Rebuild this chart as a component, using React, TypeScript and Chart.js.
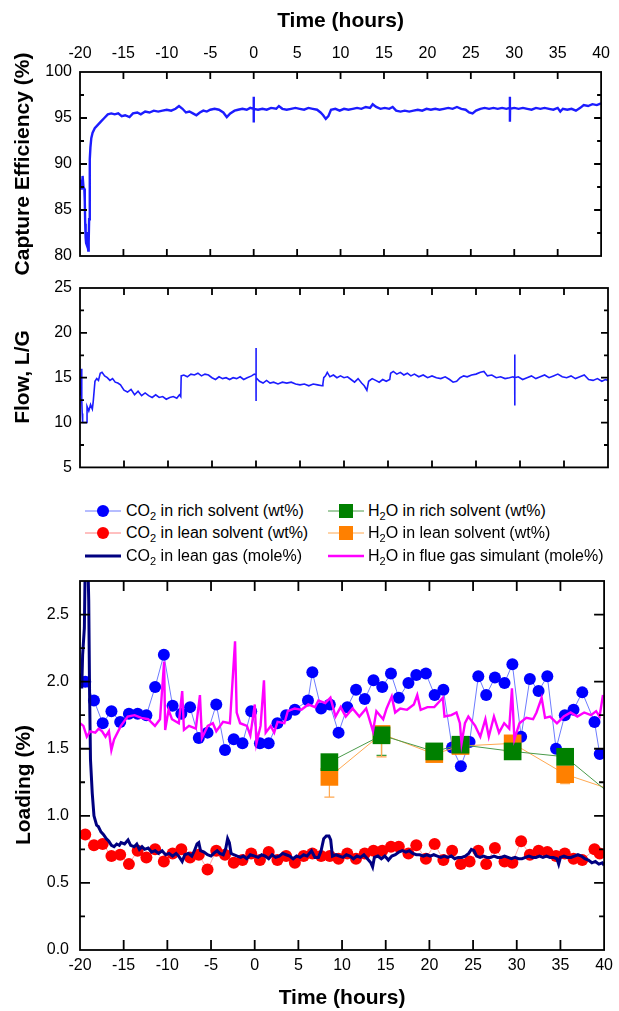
import React, { useEffect, useRef } from "react";
import { Chart, registerables } from "chart.js";

Chart.register(...registerables);

const FONT = "'Liberation Sans', Arial, Helvetica, sans-serif";

// ---------- axis ticks ----------
const timeTicks = [-20, -15, -10, -5, 0, 5, 10, 15, 20, 25, 30, 35, 40];
const effTicks = [80, 85, 90, 95, 100];
const effMinorTicks = [82.5, 87.5, 92.5, 97.5];
const flowTicks = [5, 10, 15, 20, 25];
const flowMinorTicks = [7.5, 12.5, 17.5, 22.5];
const loadTicks = [0, 0.5, 1.0, 1.5, 2.0, 2.5];
const loadMinorTicks = [0.25, 0.75, 1.25, 1.75, 2.25];

// ---------- data: [time (h), value] ----------
const captureEfficiency: [number, number][] = [
  [-20.0, 87.6], [-19.9, 88.3], [-19.8, 87.2], [-19.7, 88.7], [-19.6, 87.5], [-19.5, 87.3], [-19.45, 86.0],
  [-19.4, 83.5], [-19.35, 82.0], [-19.3, 81.4], [-19.25, 82.6], [-19.2, 81.2], [-19.15, 81.8], [-19.1, 81.0],
  [-19.05, 80.6], [-19.0, 81.5], [-18.95, 84.0], [-18.9, 87.5], [-18.85, 90.5], [-18.8, 91.8], [-18.7, 92.8],
  [-18.55, 93.4], [-18.3, 93.9], [-18.0, 94.2], [-17.6, 94.6], [-17.2, 95.0], [-16.8, 95.4], [-16.4, 95.5],
  [-16.0, 95.4], [-15.6, 95.5], [-15.2, 95.2], [-14.8, 95.3], [-14.3, 95.1], [-13.9, 95.5], [-13.4, 95.6],
  [-13.0, 95.4], [-12.5, 95.7], [-12.0, 95.6], [-11.5, 95.8], [-11.0, 95.7], [-10.5, 95.8], [-10.0, 95.9],
  [-9.5, 95.8], [-9.0, 96.0], [-8.6, 96.3], [-8.2, 96.0], [-7.8, 95.6], [-7.4, 95.7], [-7.0, 95.5],
  [-6.6, 95.3], [-6.2, 95.6], [-5.8, 95.8], [-5.4, 95.7], [-5.0, 95.9], [-4.5, 96.0], [-4.0, 95.9],
  [-3.5, 95.6], [-3.1, 95.1], [-2.7, 95.5], [-2.2, 95.8], [-1.8, 95.9], [-1.3, 96.0], [-0.8, 95.9],
  [-0.4, 96.1], [0.0, 96.0], [0.0, 97.3], [0.0, 94.5], [0.02, 96.0], [0.5, 95.9], [1.0, 96.0], [1.5, 95.9],
  [2.0, 96.1], [2.6, 96.0], [2.9, 96.3], [3.3, 96.0], [3.8, 95.9], [4.3, 96.0], [4.8, 96.1], [5.3, 96.0],
  [5.8, 95.9], [6.3, 96.1], [6.8, 96.0], [7.3, 95.9], [7.7, 95.6], [8.0, 95.3], [8.3, 94.9], [8.6, 95.2],
  [8.9, 95.9], [9.4, 96.0], [9.9, 95.8], [10.4, 96.0], [10.9, 95.9], [11.4, 96.0], [11.9, 96.1], [12.4, 96.0],
  [12.9, 96.2], [13.4, 96.1], [13.7, 96.5], [14.1, 96.2], [14.6, 96.0], [15.1, 96.1], [15.6, 96.0], [16.0, 96.2],
  [16.4, 95.8], [16.9, 95.7], [17.4, 95.8], [17.9, 95.7], [18.4, 95.8], [18.9, 95.9], [19.4, 95.8], [19.9, 96.0],
  [20.4, 95.9], [20.9, 96.0], [21.4, 95.9], [21.9, 96.0], [22.4, 96.1], [22.9, 96.0], [23.4, 96.2], [23.9, 96.0],
  [24.4, 95.9], [24.8, 95.6], [25.2, 95.5], [25.6, 95.8], [26.1, 96.0], [26.6, 96.1], [27.1, 96.0], [27.6, 96.1],
  [28.1, 96.0], [28.6, 96.1], [29.1, 96.0], [29.5, 96.1], [29.5, 97.3], [29.5, 94.6], [29.52, 96.0], [30.0, 96.1],
  [30.5, 96.0], [31.0, 96.1], [31.5, 96.0], [32.0, 95.9], [32.5, 96.1], [33.0, 96.0], [33.5, 96.1], [34.0, 96.0],
  [34.5, 95.9], [35.0, 96.1], [35.3, 95.7], [35.6, 96.0], [36.1, 95.9], [36.6, 96.0], [37.1, 95.8], [37.6, 96.1],
  [38.0, 96.4], [38.5, 96.3], [39.0, 96.5], [39.5, 96.4], [40.0, 96.6],
];

const flowLG: [number, number][] = [
  [-20.0, 13.1], [-19.9, 13.8], [-19.85, 16.0], [-19.8, 12.5], [-19.75, 11.0], [-19.7, 10.0], [-19.2, 10.0],
  [-19.2, 11.8], [-19.0, 11.3], [-18.8, 12.0], [-18.6, 11.5], [-18.5, 12.3], [-18.3, 14.6], [-18.1, 14.9],
  [-17.9, 14.7], [-17.7, 15.5], [-17.5, 15.6], [-17.2, 15.2], [-16.9, 15.0], [-16.6, 14.7], [-16.3, 14.9],
  [-16.0, 14.5], [-15.7, 14.4], [-15.4, 14.2], [-15.0, 13.6], [-14.6, 13.4], [-14.2, 13.7], [-13.8, 13.1],
  [-13.4, 13.5], [-13.0, 13.0], [-12.6, 13.3], [-12.2, 13.0], [-11.8, 12.8], [-11.4, 13.1], [-11.0, 12.8],
  [-10.6, 12.9], [-10.2, 12.6], [-9.8, 12.8], [-9.4, 12.9], [-9.0, 12.7], [-8.7, 13.1], [-8.55, 12.9],
  [-8.5, 15.2], [-8.2, 15.3], [-7.8, 15.1], [-7.4, 15.4], [-7.0, 15.3], [-6.6, 15.5], [-6.2, 15.2], [-5.8, 15.4],
  [-5.4, 15.3], [-5.0, 15.0], [-4.6, 14.8], [-4.2, 15.1], [-3.8, 14.9], [-3.4, 15.0], [-3.0, 14.8], [-2.6, 15.0],
  [-2.2, 14.9], [-1.8, 15.1], [-1.4, 14.8], [-1.0, 15.0], [-0.5, 15.2], [-0.2, 15.4], [0.0, 15.3], [0.0, 18.3],
  [0.0, 12.4], [0.03, 15.0], [0.4, 14.6], [0.8, 14.4], [1.2, 14.7], [1.6, 14.4], [2.0, 14.5], [2.5, 14.3],
  [3.0, 14.5], [3.5, 14.4], [4.0, 14.5], [4.5, 14.3], [5.0, 14.2], [5.5, 14.3], [6.0, 14.1], [6.5, 14.3],
  [7.0, 14.2], [7.5, 14.1], [7.6, 14.3], [7.7, 15.0], [7.9, 15.2], [8.1, 15.6], [8.4, 15.1], [8.8, 15.3],
  [9.2, 15.0], [9.6, 15.2], [10.0, 15.0], [10.4, 15.1], [10.8, 14.8], [11.2, 14.5], [11.6, 14.9], [12.0, 14.4],
  [12.3, 14.1], [12.6, 13.6], [12.8, 14.6], [13.2, 14.9], [13.6, 14.7], [14.0, 14.5], [14.4, 14.8], [14.8, 14.6],
  [15.2, 14.8], [15.3, 15.5], [15.6, 15.7], [16.0, 15.4], [16.4, 15.6], [16.8, 15.3], [17.2, 15.5], [17.6, 15.2],
  [18.0, 15.4], [18.5, 15.1], [19.0, 15.3], [19.5, 15.0], [20.0, 15.2], [20.5, 15.0], [21.0, 14.9], [21.5, 15.1],
  [22.0, 14.8], [22.4, 14.5], [22.8, 14.6], [23.2, 15.0], [23.6, 15.2], [24.0, 15.1], [24.5, 15.3], [25.0, 15.4],
  [25.5, 15.6], [25.9, 15.7], [26.3, 15.2], [26.8, 15.3], [27.3, 15.0], [27.8, 15.1], [28.3, 14.9], [28.8, 15.0],
  [29.2, 15.1], [29.4, 15.0], [29.4, 17.6], [29.4, 11.9], [29.43, 15.0], [29.8, 15.1], [30.3, 14.8], [30.8, 15.0],
  [31.3, 15.2], [31.8, 14.9], [32.3, 15.1], [32.8, 15.3], [33.3, 15.0], [33.8, 15.2], [34.3, 15.4], [34.8, 15.1],
  [35.3, 15.0], [35.8, 15.2], [36.3, 14.9], [36.8, 15.1], [37.3, 15.3], [37.8, 14.8], [38.3, 14.7], [38.8, 14.9],
  [39.3, 14.6], [39.7, 14.8], [40.0, 14.7],
];

const co2RichSolvent: [number, number][] = [
  [-19.4, 2.0], [-18.4, 1.86], [-17.4, 1.69], [-16.4, 1.78], [-15.4, 1.7], [-14.4, 1.76], [-13.4, 1.76],
  [-12.4, 1.75], [-11.4, 1.96], [-10.4, 2.2], [-9.4, 1.82], [-8.4, 1.76], [-7.4, 1.81], [-6.4, 1.58],
  [-5.4, 1.62], [-4.4, 1.83], [-3.4, 1.49], [-2.4, 1.57], [-1.4, 1.54], [-0.4, 1.78], [0.6, 1.54], [1.6, 1.54],
  [2.6, 1.69], [3.6, 1.75], [4.6, 1.79], [6.1, 1.86], [6.6, 2.07], [7.6, 1.8], [8.6, 1.83], [9.6, 1.62],
  [10.6, 1.81], [11.6, 1.94], [12.6, 1.87], [13.6, 2.01], [14.6, 1.96], [15.6, 2.06], [16.5, 1.88], [17.6, 1.99],
  [18.5, 2.05], [19.6, 2.06], [20.6, 1.9], [21.6, 1.94], [22.6, 1.51], [23.6, 1.37], [24.6, 1.55], [25.6, 2.04],
  [26.5, 1.9], [27.5, 2.03], [28.6, 1.99], [29.5, 2.13], [30.5, 1.59], [31.5, 2.02], [32.5, 1.93], [33.5, 2.04],
  [34.5, 1.5], [35.5, 1.75], [36.5, 1.79], [37.5, 1.92], [38.9, 1.7], [39.5, 1.46],
];

const co2LeanSolvent: [number, number][] = [
  [-19.4, 0.86], [-18.4, 0.78], [-17.4, 0.79], [-16.4, 0.7], [-15.4, 0.71], [-14.4, 0.64], [-13.4, 0.74],
  [-12.4, 0.69], [-11.4, 0.75], [-10.4, 0.66], [-9.4, 0.72], [-8.4, 0.75], [-7.4, 0.69], [-6.4, 0.71],
  [-5.4, 0.6], [-4.4, 0.74], [-3.4, 0.71], [-2.4, 0.65], [-1.4, 0.67], [-0.4, 0.72], [0.6, 0.67], [1.6, 0.73],
  [2.6, 0.67], [3.6, 0.7], [4.6, 0.65], [5.6, 0.7], [6.6, 0.72], [7.6, 0.7], [8.6, 0.7], [9.6, 0.68],
  [10.6, 0.72], [11.6, 0.68], [12.6, 0.72], [13.6, 0.74], [14.6, 0.74], [15.6, 0.77], [16.5, 0.77], [17.6, 0.72],
  [18.5, 0.78], [19.6, 0.68], [20.6, 0.79], [21.6, 0.67], [22.6, 0.74], [23.6, 0.64], [24.6, 0.66], [25.6, 0.74],
  [26.5, 0.64], [27.5, 0.76], [28.6, 0.66], [29.5, 0.65], [30.5, 0.81], [31.5, 0.71], [32.5, 0.74], [33.5, 0.73],
  [34.5, 0.7], [35.5, 0.72], [36.5, 0.68], [37.5, 0.67], [38.9, 0.75], [39.5, 0.72],
];

const co2LeanGas: [number, number][] = [
  [-20.0, 2.06], [-19.8, 1.95], [-19.7, 2.2], [-19.5, 2.4], [-19.4, 2.9], [-19.1, 2.9], [-19.0, 2.6],
  [-18.9, 1.9], [-18.8, 1.42], [-18.6, 1.17], [-18.4, 1.0], [-18.1, 0.93], [-17.9, 0.92], [-17.6, 0.88],
  [-17.3, 0.86], [-17.0, 0.83], [-16.7, 0.81], [-16.4, 0.78], [-16.1, 0.77], [-15.8, 0.79], [-15.5, 0.78],
  [-15.3, 0.8], [-14.9, 0.79], [-14.5, 0.82], [-14.2, 0.78], [-13.8, 0.77], [-13.5, 0.79], [-13.2, 0.75],
  [-12.9, 0.77], [-12.6, 0.75], [-12.2, 0.76], [-11.8, 0.73], [-11.4, 0.74], [-11.0, 0.72], [-10.6, 0.74],
  [-10.2, 0.71], [-9.8, 0.72], [-9.4, 0.7], [-9.0, 0.72], [-8.7, 0.7], [-8.3, 0.66], [-8.0, 0.71], [-7.6, 0.72],
  [-7.2, 0.7], [-6.9, 0.74], [-6.6, 0.79], [-6.4, 0.8], [-6.2, 0.74], [-5.8, 0.73], [-5.4, 0.71], [-5.0, 0.7],
  [-4.7, 0.72], [-4.3, 0.74], [-4.0, 0.72], [-3.6, 0.71], [-3.3, 0.76], [-3.1, 0.83], [-2.9, 0.8], [-2.7, 0.72],
  [-2.4, 0.71], [-2.0, 0.7], [-1.6, 0.69], [-1.3, 0.7], [-0.9, 0.68], [-0.5, 0.71], [0.0, 0.7], [0.4, 0.69],
  [0.8, 0.71], [1.2, 0.7], [1.6, 0.68], [2.0, 0.71], [2.4, 0.69], [2.8, 0.7], [3.2, 0.72], [3.6, 0.71],
  [4.0, 0.7], [4.4, 0.68], [4.8, 0.7], [5.2, 0.69], [5.6, 0.71], [6.0, 0.7], [6.5, 0.74], [6.9, 0.69],
  [7.3, 0.69], [7.6, 0.74], [7.9, 0.83], [8.2, 0.85], [8.5, 0.85], [8.7, 0.82], [8.9, 0.7], [9.3, 0.71],
  [9.7, 0.7], [10.1, 0.69], [10.5, 0.71], [10.9, 0.7], [11.3, 0.68], [11.7, 0.7], [12.1, 0.69], [12.5, 0.71],
  [12.9, 0.68], [13.3, 0.65], [13.5, 0.62], [13.7, 0.69], [14.1, 0.7], [14.5, 0.68], [14.9, 0.7], [15.3, 0.67],
  [15.7, 0.7], [16.1, 0.71], [16.5, 0.73], [16.9, 0.74], [17.3, 0.73], [17.7, 0.74], [18.1, 0.72], [18.5, 0.71],
  [18.9, 0.71], [19.3, 0.7], [19.7, 0.71], [20.1, 0.7], [20.5, 0.71], [20.9, 0.7], [21.3, 0.69], [21.7, 0.7],
  [22.1, 0.69], [22.5, 0.7], [22.9, 0.68], [23.3, 0.69], [23.7, 0.69], [24.1, 0.7], [24.5, 0.72], [24.8, 0.75],
  [25.1, 0.74], [25.4, 0.7], [25.8, 0.69], [26.2, 0.7], [26.6, 0.69], [27.0, 0.69], [27.4, 0.7], [27.8, 0.69],
  [28.2, 0.69], [28.6, 0.7], [29.0, 0.69], [29.4, 0.68], [29.8, 0.69], [30.2, 0.68], [30.6, 0.68], [31.0, 0.69],
  [31.4, 0.7], [31.8, 0.69], [32.2, 0.69], [32.6, 0.7], [33.0, 0.69], [33.4, 0.7], [33.8, 0.69], [34.2, 0.69],
  [34.6, 0.68], [34.8, 0.64], [35.0, 0.69], [35.4, 0.7], [35.8, 0.69], [36.2, 0.69], [36.6, 0.7], [37.0, 0.71],
  [37.4, 0.7], [37.8, 0.68], [38.2, 0.67], [38.6, 0.65], [39.0, 0.66], [39.4, 0.64], [39.8, 0.65], [40.0, 0.63],
];

const h2oFlueGas: [number, number][] = [
  [-20.0, 1.69], [-19.61, 1.67], [-19.22, 1.59], [-18.83, 1.63], [-18.25, 1.62], [-17.86, 1.65], [-17.47, 1.63],
  [-17.08, 1.59], [-16.69, 1.63], [-16.41, 1.49], [-16.1, 1.57], [-15.32, 1.67], [-14.54, 1.74], [-13.76, 1.75],
  [-12.98, 1.73], [-12.2, 1.72], [-11.42, 1.67], [-10.84, 1.72], [-10.37, 2.15], [-10.25, 1.64], [-9.86, 1.79],
  [-9.47, 1.72], [-8.69, 1.69], [-8.3, 1.93], [-8.1, 1.64], [-7.52, 1.67], [-6.74, 1.65], [-6.27, 1.9],
  [-6.04, 1.58], [-5.38, 1.67], [-4.79, 1.69], [-4.4, 1.63], [-3.62, 1.7], [-2.84, 1.69], [-2.25, 2.3],
  [-2.06, 1.77], [-1.67, 1.69], [-0.89, 1.67], [-0.5, 1.6], [0.01, 1.83], [0.2, 1.54], [0.67, 1.67],
  [1.06, 2.01], [1.26, 1.62], [1.84, 1.67], [2.23, 1.62], [2.62, 1.7], [3.4, 1.69], [3.79, 1.78], [4.57, 1.8],
  [5.35, 1.79], [6.13, 1.83], [6.91, 1.81], [7.3, 1.86], [8.08, 1.84], [8.67, 1.88], [9.25, 1.74], [9.84, 1.81],
  [10.42, 1.74], [11.2, 1.8], [11.98, 1.74], [12.76, 1.8], [13.54, 1.63], [13.93, 1.78], [14.71, 1.72],
  [15.1, 1.8], [15.69, 1.89], [16.08, 1.77], [16.66, 1.8], [17.44, 1.79], [18.22, 1.83], [18.61, 1.9],
  [19.0, 1.79], [19.78, 1.81], [20.56, 1.81], [21.54, 1.88], [21.73, 1.74], [22.51, 1.75], [23.1, 1.77],
  [23.49, 1.69], [23.68, 1.54], [24.07, 1.69], [24.46, 1.74], [25.24, 1.67], [25.83, 1.59], [26.41, 1.72],
  [26.8, 1.59], [27.39, 1.74], [27.97, 1.62], [28.56, 1.69], [29.14, 1.65], [29.45, 1.95], [29.73, 1.57],
  [30.31, 1.69], [31.09, 1.73], [31.87, 1.72], [32.26, 1.77], [32.85, 1.88], [33.24, 1.73], [33.82, 1.74],
  [34.6, 1.69], [35.38, 1.74], [36.16, 1.77], [36.94, 1.74], [37.72, 1.77], [38.5, 1.75], [39.09, 1.78],
  [39.48, 1.74], [39.87, 1.9],
];

const h2oSampleTimes = [8.55, 14.52, 20.56, 23.56, 29.53, 35.54, 41.5];
const h2oRichSolvent = [1.4, 1.6, 1.48, 1.53, 1.48, 1.44, 1.12];
const h2oRichLowerError: (number | null)[] = [null, 1.45, null, null, null, null, null];
const h2oLeanSolvent = [1.29, 1.61, 1.46, 1.52, 1.54, 1.31, 1.18];
const h2oLeanLowerError: (number | null)[] = [1.14, 1.44, null, null, null, 1.24, null];

// ---------- plugins ----------
const framePlugin = {
  id: "frame",
  afterDatasetsDraw(chart: any, _args: any, opts: any) {
    const { ctx, chartArea: a } = chart;
    const xs = chart.scales.x;
    const ys = chart.scales.y;
    ctx.save();
    ctx.strokeStyle = "#000";
    ctx.lineWidth = 1.8;
    ctx.beginPath();
    (opts.xTicks || []).forEach((v: number) => {
      const p = xs.getPixelForValue(v);
      if (p <= a.left + 1 || p >= a.right - 1) return;
      ctx.moveTo(p, a.top);
      ctx.lineTo(p, a.top + opts.major);
      ctx.moveTo(p, a.bottom);
      ctx.lineTo(p, a.bottom - opts.major);
    });
    const yt = (list: number[], len: number) =>
      list.forEach((v) => {
        const p = ys.getPixelForValue(v);
        if (p <= a.top + 1 || p >= a.bottom - 1) return;
        ctx.moveTo(a.left, p);
        ctx.lineTo(a.left + len, p);
        ctx.moveTo(a.right, p);
        ctx.lineTo(a.right - len, p);
      });
    yt(opts.yTicks || [], opts.major);
    yt(opts.yMinor || [], opts.minor);
    ctx.stroke();
    ctx.strokeRect(a.left, a.top, a.right - a.left, a.bottom - a.top);
    if (opts.yTitle) {
      ctx.translate(opts.yTitleX, opts.yTitleY);
      ctx.rotate(-Math.PI / 2);
      ctx.font = `bold 21px ${FONT}`;
      ctx.fillStyle = "#000";
      ctx.textAlign = "center";
      ctx.textBaseline = "middle";
      ctx.fillText(opts.yTitle, 0, 0);
    }
    ctx.restore();
  },
};

const errorBarPlugin = {
  id: "errorBars",
  beforeDatasetsDraw(chart: any) {
    const { ctx } = chart;
    const xs = chart.scales.x;
    const ys = chart.scales.y;
    ctx.save();
    chart.data.datasets.forEach((ds: any) => {
      if (!ds.errLow) return;
      ctx.strokeStyle = ds.errColor;
      ctx.lineWidth = 1.2;
      ctx.beginPath();
      ds.data.forEach((pt: any, j: number) => {
        const lo = ds.errLow[j];
        if (lo == null) return;
        const px = xs.getPixelForValue(pt.x);
        const py = ys.getPixelForValue(pt.y);
        const pl = ys.getPixelForValue(lo);
        ctx.moveTo(px, py);
        ctx.lineTo(px, pl);
        ctx.moveTo(px - 5, pl);
        ctx.lineTo(px + 5, pl);
      });
      ctx.stroke();
    });
    ctx.restore();
  },
};

const tickFont = { family: FONT, size: 16 };
const titleFont = { family: FONT, size: 21, weight: "bold" as const };
const setTicks = (list: number[]) => (s: any) => {
  s.ticks = list.map((v) => ({ value: v }));
};
const pts = (arr: [number, number][]) => arr.map(([x, y]) => ({ x, y }));

function baseOptions(frame: any, padding: any, x: any, y: any) {
  return {
    animation: false,
    responsive: false,
    maintainAspectRatio: false,
    events: [],
    layout: { padding },
    plugins: { legend: { display: false }, tooltip: { enabled: false }, frame },
    scales: { x, y },
  } as any;
}

const hiddenGrid = { display: false, drawTicks: false };

export default function App() {
  const topRef = useRef<HTMLCanvasElement>(null);
  const midRef = useRef<HTMLCanvasElement>(null);
  const botRef = useRef<HTMLCanvasElement>(null);

  useEffect(() => {
    const charts: Chart[] = [];

    charts.push(
      new Chart(topRef.current as HTMLCanvasElement, {
        type: "line",
        data: {
          datasets: [
            {
              data: pts(captureEfficiency),
              borderColor: "#1c1cff",
              borderWidth: 2.4,
              pointRadius: 0,
              tension: 0,
            },
          ],
        },
        options: baseOptions(
          { xTicks: timeTicks, yTicks: effTicks, yMinor: effMinorTicks, major: 7, minor: 4, yTitle: "Capture Efficiency (%)", yTitleX: 23, yTitleY: 164 },
          { left: 0, right: 11, top: 0, bottom: 34 },
          {
            type: "linear", position: "top", min: -20, max: 40,
            afterBuildTicks: setTicks(timeTicks),
            afterFit: (s: any) => { s.height = 72; },
            grid: hiddenGrid, border: { display: false },
            ticks: { font: tickFont, color: "#000", padding: 9, maxRotation: 0, minRotation: 0, autoSkip: false },
            title: { display: true, text: "Time (hours)", color: "#000", font: titleFont, padding: { top: 9, bottom: 0 } },
          },
          {
            type: "linear", min: 80, max: 100,
            afterBuildTicks: setTicks(effTicks),
            afterFit: (s: any) => { s.width = 80; },
            grid: hiddenGrid, border: { display: false },
            ticks: { font: tickFont, color: "#000", padding: 8 },
          }
        ),
        plugins: [framePlugin],
      } as any)
    );

    charts.push(
      new Chart(midRef.current as HTMLCanvasElement, {
        type: "line",
        data: {
          datasets: [
            {
              data: pts(flowLG),
              borderColor: "#1c1cff",
              borderWidth: 1.6,
              pointRadius: 0,
              tension: 0,
            },
          ],
        },
        options: baseOptions(
          { xTicks: timeTicks, yTicks: flowTicks, yMinor: flowMinorTicks, major: 7, minor: 4, yTitle: "Flow, L/G", yTitleX: 23, yTitleY: 107 },
          { left: 0, right: 11, top: 18, bottom: 12 },
          { type: "linear", display: false, min: -20, max: 40 },
          {
            type: "linear", min: 5, max: 25,
            afterBuildTicks: setTicks(flowTicks),
            afterFit: (s: any) => { s.width = 80; },
            grid: hiddenGrid, border: { display: false },
            ticks: { font: tickFont, color: "#000", padding: 8 },
          }
        ),
        plugins: [framePlugin],
      } as any)
    );

    charts.push(
      new Chart(botRef.current as HTMLCanvasElement, {
        type: "line",
        data: {
          datasets: [
            {
              label: "H2O in flue gas simulant (mole%)",
              data: pts(h2oFlueGas),
              borderColor: "#ff00ff",
              borderWidth: 2.4,
              pointRadius: 0,
              tension: 0,
            },
            {
              label: "CO2 in lean gas (mole%)",
              data: pts(co2LeanGas),
              borderColor: "#000080",
              borderWidth: 3,
              pointRadius: 0,
              tension: 0,
            },
            {
              label: "H2O in rich solvent (wt%)",
              data: h2oSampleTimes.map((x, i) => ({ x, y: h2oRichSolvent[i] })),
              errLow: h2oRichLowerError,
              errColor: "#3f9f3f",
              borderColor: "#4a9a4a",
              borderWidth: 1,
              pointStyle: "rect",
              pointRadius: 12.5,
              pointBackgroundColor: "#008000",
              pointBorderWidth: 0,
              tension: 0,
            },
            {
              label: "H2O in lean solvent (wt%)",
              data: h2oSampleTimes.map((x, i) => ({ x, y: h2oLeanSolvent[i] })),
              errLow: h2oLeanLowerError,
              errColor: "#ffa850",
              borderColor: "#ffa850",
              borderWidth: 1,
              pointStyle: "rect",
              pointRadius: 12.5,
              pointBackgroundColor: "#ff8000",
              pointBorderWidth: 0,
              tension: 0,
            },
            {
              label: "CO2 in rich solvent (wt%)",
              data: pts(co2RichSolvent),
              borderColor: "#6d7bff",
              borderWidth: 1,
              pointRadius: 6,
              pointBackgroundColor: "#0000ff",
              pointBorderWidth: 0,
              tension: 0,
            },
            {
              label: "CO2 in lean solvent (wt%)",
              data: pts(co2LeanSolvent),
              borderColor: "#ff9090",
              borderWidth: 0.8,
              pointRadius: 6,
              pointBackgroundColor: "#ff0000",
              pointBorderWidth: 0,
              tension: 0,
            },
          ],
        },
        options: baseOptions(
          { xTicks: timeTicks, yTicks: loadTicks, yMinor: loadMinorTicks, major: 10, minor: 5, yTitle: "Loading (%)", yTitleX: 24, yTitleY: 225 },
          { left: 0, right: 11, top: 21, bottom: 0 },
          {
            type: "linear", position: "bottom", min: -20, max: 40,
            afterBuildTicks: setTicks(timeTicks),
            afterFit: (s: any) => { s.height = 61; },
            grid: hiddenGrid, border: { display: false },
            ticks: { font: tickFont, color: "#000", padding: 6, maxRotation: 0, minRotation: 0, autoSkip: false },
            title: { display: true, text: "Time (hours)", color: "#000", font: titleFont, padding: { top: 0, bottom: 0 } },
          },
          {
            type: "linear", min: 0, max: 2.75,
            afterBuildTicks: setTicks(loadTicks),
            afterFit: (s: any) => { s.width = 80; },
            grid: hiddenGrid, border: { display: false },
            ticks: { font: tickFont, color: "#000", padding: 11, callback: (v: any) => Number(v).toFixed(1) },
          }
        ),
        plugins: [framePlugin, errorBarPlugin],
      } as any)
    );

    return () => charts.forEach((c) => c.destroy());
  }, []);

  const legendEntries = [
    { chem: ["CO", "2", ""], text: " in rich solvent (wt%)", marker: "circle", fill: "#0000ff", line: "#6d7bff", lw: 1 },
    { chem: ["CO", "2", ""], text: " in lean solvent (wt%)", marker: "circle", fill: "#ff0000", line: "#ff8080", lw: 1 },
    { chem: ["CO", "2", ""], text: " in lean gas (mole%)", marker: "none", fill: "", line: "#000080", lw: 3 },
    { chem: ["H", "2", "O"], text: " in rich solvent (wt%)", marker: "square", fill: "#008000", line: "#4a9a4a", lw: 1 },
    { chem: ["H", "2", "O"], text: " in lean solvent (wt%)", marker: "square", fill: "#ff8000", line: "#ffa850", lw: 1 },
    { chem: ["H", "2", "O"], text: " in flue gas simulant (mole%)", marker: "none", fill: "", line: "#ff00ff", lw: 2.4 },
  ];
  const rowY = [511, 533, 556];
  const colX = [85, 328];

  return (
    <div style={{ position: "absolute", left: 0, top: 0, width: 619, height: 1011, background: "#fff", overflow: "hidden", fontFamily: FONT }}>
      <canvas ref={topRef} width={619} height={290} style={{ position: "absolute", left: 0, top: 0, width: 619, height: 290 }} />
      <canvas ref={midRef} width={619} height={215} style={{ position: "absolute", left: 0, top: 270, width: 619, height: 215 }} />
      <canvas ref={botRef} width={619} height={451} style={{ position: "absolute", left: 0, top: 560, width: 619, height: 451 }} />
      {legendEntries.map((e, i) => {
        const col = Math.floor(i / 3);
        const row = i % 3;
        return (
          <div
            key={i}
            style={{
              position: "absolute",
              left: colX[col],
              top: rowY[row] - 11,
              height: 22,
              display: "flex",
              alignItems: "center",
              whiteSpace: "nowrap",
              fontSize: 16,
              color: "#000",
              lineHeight: "22px",
            }}
          >
            <svg width={36} height={22} style={{ display: "block" }}>
              <line x1={0} y1={11} x2={36} y2={11} stroke={e.line} strokeWidth={e.lw} />
              {e.marker === "circle" && <circle cx={18} cy={11} r={6} fill={e.fill} />}
              {e.marker === "square" && <rect x={11} y={4} width={14} height={14} fill={e.fill} />}
            </svg>
            <span style={{ marginLeft: col === 0 ? 5 : 4 }}>
              {e.chem[0]}
              <sub style={{ fontSize: 11, verticalAlign: "baseline", position: "relative", top: 4 }}>{e.chem[1]}</sub>
              {e.chem[2]}
              {e.text}
            </span>
          </div>
        );
      })}
    </div>
  );
}
